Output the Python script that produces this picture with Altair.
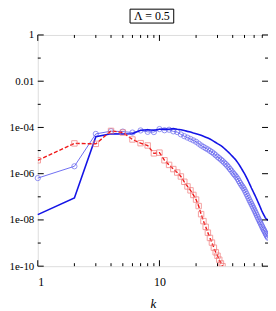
import altair as alt
import pandas as pd

# ---- data (log10 of the plotted value) ----
k_red = list(range(1, 34))
red_log10 = [-5.42, -4.69, -4.71, -4.15, -4.22, -4.52, -4.68, -4.78, -5.12, -5.09,
             -5.42, -5.62, -5.80, -5.95, -6.12, -6.35, -6.55, -6.72, -6.92, -7.12,
             -7.40, -7.75, -8.05, -8.30, -8.55, -8.78, -8.98, -9.20, -9.40, -9.55,
             -9.72, -9.88, -10.0]

k_blue = list(range(1, 79))
circ_log10 = [-6.19, -5.68, -4.28, -4.16, -4.18, -4.22, -4.13, -4.19, -4.20, -4.07,
              -4.12, -4.10, -4.17, -4.20, -4.30, -4.38, -4.44, -4.50, -4.56, -4.62,
              -4.70, -4.78, -4.84, -4.90, -4.95, -5.01, -5.07, -5.13, -5.20, -5.27,
              -5.33, -5.39, -5.45, -5.52, -5.58, -5.65, -5.72, -5.80, -5.87, -5.95,
              -6.02, -6.08, -6.15, -6.23, -6.32, -6.40, -6.48, -6.55, -6.62, -6.70,
              -6.79, -6.88, -6.97, -7.06, -7.15, -7.23, -7.31, -7.39, -7.47, -7.55,
              -7.63, -7.71, -7.79, -7.87, -7.95, -8.02, -8.09, -8.16, -8.23, -8.30,
              -8.37, -8.43, -8.49, -8.55, -8.61, -8.67, -8.72, -8.77]
solid_log10 = [-7.77, -7.05, -4.40, -4.27, -4.28, -4.27, -4.12, -4.10, -4.12, -4.08,
               -4.07, -4.08, -4.05, -4.08, -4.10, -4.13, -4.17, -4.20, -4.24, -4.27,
               -4.30, -4.34, -4.38, -4.42, -4.46, -4.50, -4.55, -4.60, -4.65, -4.70,
               -4.74, -4.79, -4.84, -4.90, -4.96, -5.02, -5.08, -5.14, -5.20, -5.26,
               -5.32, -5.38, -5.45, -5.52, -5.60, -5.68, -5.76, -5.84, -5.92, -6.00,
               -6.08, -6.17, -6.26, -6.35, -6.44, -6.53, -6.62, -6.70, -6.78, -6.86,
               -6.94, -7.02, -7.10, -7.18, -7.26, -7.34, -7.42, -7.50, -7.58, -7.65,
               -7.72, -7.78, -7.84, -7.90, -7.94, -7.97, -7.99, -8.03]

x_major = [1, 10]
x_minor = [2, 3, 4, 5, 6, 7, 8, 9, 20, 30, 40, 50, 60, 70]
y_major = [1, 1e-2, 1e-4, 1e-6, 1e-8, 1e-10]
y_minor = [1e-1, 1e-3, 1e-5, 1e-7, 1e-9]
title_text = "Λ = 0.5"

red_df = pd.DataFrame({"k": k_red, "v": [10 ** v for v in red_log10]})
circ_df = pd.DataFrame({"k": k_blue, "v": [10 ** v for v in circ_log10]})
solid_df = pd.DataFrame({"k": k_blue, "v": [10 ** v for v in solid_log10]})
one = pd.DataFrame({"a": [0]})

W, H = 232, 233
FONT = "Liberation Serif"
xs = alt.Scale(type="log", domain=[1, 78], nice=False)
ys = alt.Scale(type="log", domain=[1e-10, 1], nice=False)

x_lab = alt.Axis(orient="bottom", values=x_major, ticks=False, labels=True,
                 labelExpr="datum.value < 5 ? '1' : '10'", labelPadding=10,
                 labelFont=FONT, labelFontSize=12, labelColor="black",
                 domain=False, grid=False, title="k", titleFont=FONT,
                 titleFontStyle="italic", titleFontWeight="normal", titleFontSize=13,
                 titleColor="black", titleY=42, titleBaseline="alphabetic")
y_lab = alt.Axis(orient="left", values=y_major, ticks=False, labels=True,
                 labelExpr="datum.value > 0.5 ? '1' : (datum.value > 0.005 ? '0.01' : "
                           "'1e-' + (round(-log(datum.value)/LN10) < 10 ? '0' : '') + round(-log(datum.value)/LN10))",
                 labelPadding=4, labelFont=FONT, labelFontSize=11, labelColor="black",
                 domain=False, grid=False)

circ_line = alt.Chart(circ_df).mark_line(color="#6f6ff2", strokeWidth=1).encode(
    x=alt.X("k:Q", scale=xs, axis=x_lab),
    y=alt.Y("v:Q", scale=ys, axis=y_lab, title=None),
)
circ_pts = alt.Chart(circ_df).mark_point(shape="circle", filled=False, size=28,
                                         color="#6464ee", strokeWidth=1).encode(
    x=alt.X("k:Q", scale=xs, axis=None),
    y=alt.Y("v:Q", scale=ys, axis=None),
)
solid = alt.Chart(solid_df).mark_line(color="#1414e6", strokeWidth=1.6).encode(
    x=alt.X("k:Q", scale=xs, axis=None),
    y=alt.Y("v:Q", scale=ys, axis=None),
)
red_line = alt.Chart(red_df).mark_line(color="#f01818", strokeWidth=1.4,
                                       strokeDash=[4, 2], clip=True).encode(
    x=alt.X("k:Q", scale=xs, axis=None),
    y=alt.Y("v:Q", scale=ys, axis=None),
)
red_pts = alt.Chart(red_df).mark_point(shape="square", filled=False, size=30,
                                       color="#f07878", strokeWidth=1, clip=True).encode(
    x=alt.X("k:Q", scale=xs, axis=None),
    y=alt.Y("v:Q", scale=ys, axis=None),
)

# inward tick marks on all four sides (positions come from the scales)
def xticks(values, length):
    df = pd.DataFrame({"k": values})
    bot = alt.Chart(df).mark_rule(color="black", strokeWidth=1).encode(
        x=alt.X("k:Q", scale=xs, axis=None), y=alt.value(H), y2=alt.value(H - length))
    top = alt.Chart(df).mark_rule(color="black", strokeWidth=1).encode(
        x=alt.X("k:Q", scale=xs, axis=None), y=alt.value(0), y2=alt.value(length))
    return [bot, top]

def yticks(values, length):
    df = pd.DataFrame({"v": values})
    left = alt.Chart(df).mark_rule(color="black", strokeWidth=1).encode(
        y=alt.Y("v:Q", scale=ys, axis=None), x=alt.value(0), x2=alt.value(length))
    right = alt.Chart(df).mark_rule(color="black", strokeWidth=1).encode(
        y=alt.Y("v:Q", scale=ys, axis=None), x=alt.value(W), x2=alt.value(W - length))
    return [left, right]

tick_layers = xticks(x_major, 6) + xticks(x_minor, 3) + yticks(y_major, 6) + yticks(y_minor, 3)

box = alt.Chart(one).mark_rect(fill="white", stroke="black", strokeWidth=1).encode(
    x=alt.value(93), x2=alt.value(137), y=alt.value(-26), y2=alt.value(-12)
)
label = alt.Chart(one).mark_text(font=FONT, fontSize=12, color="black",
                                 baseline="middle", align="center").encode(
    x=alt.value(115), y=alt.value(-19), text=alt.value(title_text)
)

chart = alt.layer(
    circ_line, circ_pts, solid, red_line, red_pts, *tick_layers, box, label,
).resolve_axis(
    x="independent", y="independent"
).properties(
    width=W, height=H,
    autosize=alt.AutoSizeParams(type="none"),
    padding={"left": 30, "top": 26, "right": 0, "bottom": 44},
).configure_view(stroke="black", strokeWidth=1).configure(background="white")

chart.save("out.html", embed_options={"renderer": "svg", "actions": False})
